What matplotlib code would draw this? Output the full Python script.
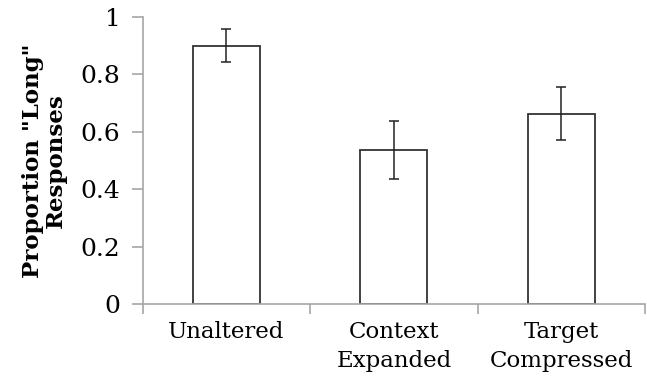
import matplotlib.pyplot as plt
import numpy as np

conditions = ['Unaltered', 'Context\nExpanded', 'Target\nCompressed']
proportions = [0.900, 0.537, 0.663]
errors = [0.057, 0.100, 0.093]

plt.rcParams['font.family'] = 'DejaVu Serif'

fig = plt.figure(figsize=(6.47, 3.81), dpi=100)
ax = fig.add_axes([0.2206, 0.2021, 0.7764, 0.7533])

x = np.arange(len(conditions))
ax.bar(x, proportions, width=0.4, color='white', edgecolor='#333333', linewidth=1.3,
       yerr=errors, capsize=3.5, error_kw={'ecolor': '#222222', 'elinewidth': 1.1, 'capthick': 1.1})

ax.set_xlim(-0.5, 2.5)
ax.set_ylim(0, 1)
ax.set_yticks([0, 0.2, 0.4, 0.6, 0.8, 1])
ax.set_yticklabels(['0', '0.2', '0.4', '0.6', '0.8', '1'])
ax.set_xticks(x)
ax.set_xticklabels(conditions, linespacing=1.45)
ax.set_xticks([-0.5, 0.5, 1.5, 2.5], minor=True)

for side in ['top', 'right']:
    ax.spines[side].set_visible(False)
for side in ['left', 'bottom']:
    ax.spines[side].set_color('#a6a6a6')
    ax.spines[side].set_linewidth(1.2)

ax.tick_params(axis='y', length=8, width=1.2, color='#a6a6a6', labelsize=18, pad=8)
ax.tick_params(axis='x', which='major', length=0, labelsize=16.5, pad=12)
ax.tick_params(axis='x', which='minor', length=7, width=1.2, color='#a6a6a6')

ax.set_ylabel('Proportion "Long"\nResponses', fontsize=16.5, fontweight='bold', linespacing=1.05, labelpad=10)

fig.savefig('out.png', dpi=100)
